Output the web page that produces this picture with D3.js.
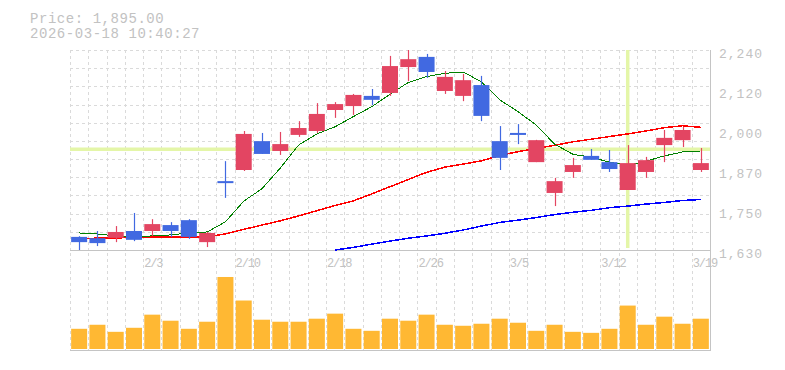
<!DOCTYPE html>
<html lang="en">
<head>
<meta charset="UTF-8" />
<title>Candlestick chart</title>
<script src="https://d3js.org/d3.v7.min.js"></script>
<style>
  body { margin: 0; background: #fff; }
  svg { display: block; }
  text { font-family: "Liberation Mono", monospace; fill: #c2c2c2; }
</style>
</head>
<body>
<svg width="785" height="370"></svg>
<script>
// trading days
var dates = ["1/28","1/29","1/30","2/2","2/3","2/4","2/5","2/6","2/9","2/10",
  "2/12","2/13","2/16","2/17","2/18","2/19","2/20","2/24","2/25","2/26",
  "2/27","3/2","3/3","3/4","3/5","3/6","3/9","3/10","3/11","3/12",
  "3/13","3/16","3/17","3/18","3/19"];

var openP  = [1670,1666,1667,1688,1688,1706,1721,1654,1837,1874,
  1962,1932,1981,1993,2057,2069,2100,2109,2188,2219,
  2115,2100,2133,1962,1984,1898,1804,1868,1917,1898,
  1813,1868,1950,1965,1874];
var highP  = [1672,1688,1703,1743,1724,1715,1724,1685,1901,1993,
  1987,1990,2023,2078,2081,2106,2121,2222,2240,2228,
  2176,2167,2161,2008,2014,1966,1850,1911,1938,1935,
  1950,1914,1996,2005,1941];
var lowP   = [1630,1642,1654,1657,1673,1670,1664,1639,1789,1871,
  1923,1920,1975,1987,2033,2042,2072,2100,2145,2155,
  2106,2084,2023,1874,1953,1898,1764,1850,1905,1868,
  1813,1850,1898,1944,1868];
var closeP = [1654,1651,1685,1661,1709,1688,1670,1682,1837,1984,
  1923,1953,2002,2045,2075,2103,2088,2191,2212,2173,
  2158,2148,2039,1911,1984,1965,1840,1889,1905,1877,
  1895,1904,1972,1996,1895];

// moving averages (short / mid / long)
var maShort = [1682,1679,1673,1670,1673,1676,1682,1685,1716,1779,
  1817,1880,1950,1984,2006,2037,2067,2105,2141,2159,
  2169,2173,2143,2088,2052,2011,1953,1922,1913,1898,
  1888,1901,1917,1929,1932];
var maMid = [1665,1666,1667,1668,1669,1669,1670,1670,1679,1693,
  1706,1719,1734,1750,1766,1780,1801,1823,1845,1867,
  1883,1892,1902,1918,1930,1940,1949,1960,1968,1976,
  1984,1993,2003,2009,2004];
var maLong = [null,null,null,null,null,null,null,null,null,null,
  null,null,null,null,1630,1638,1648,1657,1666,1673,
  1681,1691,1703,1714,1721,1729,1738,1745,1751,1759,
  1764,1770,1775,1781,1784];

var volume = [200,240,170,210,340,280,200,270,713,480,
  290,270,270,300,350,200,180,300,280,340,
  240,230,250,300,260,180,240,170,160,200,
  430,240,320,250,300];

var yTicks = [1630,1752,1874,1996,2118,2240];
var yTickLabels = ["1,630","1,750","1,870","2,000","2,120","2,240"];
var xTickDates = ["2/3","2/10","2/18","2/26","3/5","3/12","3/19"];

var titleLines = ["Price: 1,895.00", "2026-03-18 10:40:27"];
var crossIndex = 30, crossPrice = 1937;

var svg = d3.select("svg");
var left = 70, right = 710;

var x = d3.scaleBand().domain(dates).range([left, right]);
var bw = x.bandwidth();
var y = d3.scaleLinear().domain([1630, 2240]).range([250, 50]);
var yv = d3.scaleLinear().domain([0, 1000]).range([349, 248]);

var upColor = "#e34562", downColor = "#4169e1";

// grid
var grid = svg.append("g").attr("stroke", "#dadada").attr("stroke-dasharray", "3,3")
  .attr("shape-rendering", "crispEdges");
var vx = dates.map(function (d) { return Math.round(x(d)) + 0.5; });
grid.selectAll(".vg").data(vx).enter().append("line")
  .attr("x1", function (d) { return d; }).attr("x2", function (d) { return d; })
  .attr("y1", 50).attr("y2", 250);
grid.selectAll(".vv").data(vx).enter().append("line")
  .attr("x1", function (d) { return d; }).attr("x2", function (d) { return d; })
  .attr("y1", 253).attr("y2", 350);
var hy = d3.range(12).map(function (k) { return Math.round(y(1630 + k * 610 / 11)) + 0.5; });
grid.selectAll(".hg").data(hy).enter().append("line")
  .attr("x1", left).attr("x2", right)
  .attr("y1", function (d) { return d; }).attr("y2", function (d) { return d; });

// crosshair
var cx = x(dates[crossIndex]) + bw / 2;
svg.append("line").attr("x1", left).attr("x2", right)
  .attr("y1", y(crossPrice)).attr("y2", y(crossPrice))
  .attr("stroke", "#e4f6a8").attr("stroke-width", 3.5);
svg.append("line").attr("x1", cx).attr("x2", cx).attr("y1", 50).attr("y2", 248)
  .attr("stroke", "#e4f6a8").attr("stroke-width", 3.5);

// axes frame
var frame = svg.append("g").attr("stroke", "#c4c4c4").attr("shape-rendering", "crispEdges");
frame.append("line").attr("x1", left).attr("x2", right + 0.5).attr("y1", 250.5).attr("y2", 250.5);
frame.append("line").attr("x1", left).attr("x2", right + 0.5).attr("y1", 350.5).attr("y2", 350.5);
frame.append("line").attr("x1", right + 0.5).attr("x2", right + 0.5).attr("y1", 50).attr("y2", 351);

// volume bars
var bodyW = 16;
svg.append("g").selectAll("rect").data(volume).enter().append("rect")
  .attr("x", function (d, i) { return x(dates[i]) + (bw - bodyW) / 2; })
  .attr("width", bodyW)
  .attr("y", function (d) { return yv(d); })
  .attr("height", function (d) { return yv(0) - yv(d); })
  .attr("fill", "#ffb833");

// moving averages (under the candles)
function maLine(values, color, w) {
  var line = d3.line()
    .defined(function (d) { return d != null; })
    .x(function (d, i) { return x(dates[i]) + bw / 2; })
    .y(function (d) { return y(d); });
  svg.append("path").datum(values).attr("d", line)
    .attr("fill", "none").attr("stroke", color).attr("stroke-width", w)
    .attr("shape-rendering", "crispEdges");
}
maLine(maLong, "#0000ff", 1.5);
maLine(maMid, "#ff0000", 1.5);
maLine(maShort, "#008000", 1);

// candles
var candles = svg.append("g").selectAll("g").data(dates).enter().append("g");
function col(i) { return closeP[i] > openP[i] ? upColor : downColor; }
candles.append("line")
  .attr("x1", function (d) { return Math.round(x(d) + bw / 2) + 0.5; })
  .attr("x2", function (d) { return Math.round(x(d) + bw / 2) + 0.5; })
  .attr("y1", function (d, i) { return y(highP[i]); })
  .attr("y2", function (d, i) { return y(lowP[i]); })
  .attr("stroke", function (d, i) { return col(i); })
  .attr("stroke-width", 1.2);
candles.append("rect")
  .attr("x", function (d) { return x(d) + (bw - bodyW) / 2; })
  .attr("width", bodyW)
  .attr("y", function (d, i) { return y(Math.max(openP[i], closeP[i])) - (openP[i] === closeP[i] ? 1 : 0); })
  .attr("height", function (d, i) { return Math.max(2, Math.abs(y(openP[i]) - y(closeP[i]))); })
  .attr("fill", function (d, i) { return col(i); });

// right axis labels
var yAxis = d3.axisRight(y).tickValues(yTicks).tickSize(0)
  .tickFormat(function (d, i) { return yTickLabels[i]; });
var ya = svg.append("g").attr("transform", "translate(719,0)").call(yAxis);
ya.select(".domain").remove();
ya.selectAll("text").attr("x", 0).attr("dy", "0.55em")
  .style("font-size", "13px").style("letter-spacing", "1px").attr("fill", "#c2c2c2")
  .style("font-family", "'Liberation Mono', monospace");

// date labels
svg.append("g").selectAll("text").data(xTickDates).enter().append("text")
  .attr("x", function (d) { return x(d) + 1; })
  .attr("y", 266.5)
  .style("font-size", "12px").style("letter-spacing", "-1.1px")
  .text(function (d) { return d; });

// header
svg.append("g").selectAll("text").data(titleLines).enter().append("text")
  .attr("x", 30)
  .attr("y", function (d, i) { return 22.5 + i * 15.2; })
  .style("font-size", "14px").style("letter-spacing", "0.55px")
  .text(function (d) { return d; });
</script>
</body>
</html>
